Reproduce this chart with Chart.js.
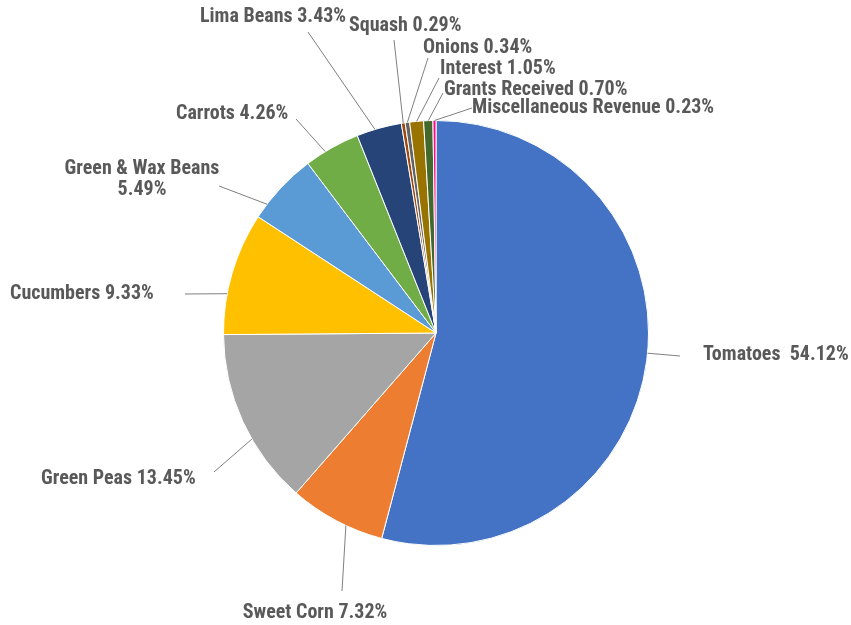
<!DOCTYPE html>
<html>
<head>
<meta charset="utf-8">
<script src="https://cdn.jsdelivr.net/npm/chart.js@4"></script>
<style>
  html, body { margin: 0; padding: 0; background: #ffffff; }
  #wrap { width: 851px; height: 625px; position: relative; }
</style>
</head>
<body>
<div id="wrap"><canvas id="c" width="851" height="625"></canvas></div>
<script>
// ---- data ----
const categories = ["Tomatoes", "Sweet Corn", "Green Peas", "Cucumbers", "Green & Wax Beans", "Carrots",
  "Lima Beans", "Squash", "Onions", "Interest", "Grants Received", "Miscellaneous Revenue"];
const shares = [54.12, 7.32, 13.45, 9.33, 5.49, 4.26, 3.43, 0.29, 0.34, 1.05, 0.70, 0.23];
const sliceColors = ["#4472C4", "#ED7D31", "#A5A5A5", "#FFC000", "#5B9BD5", "#70AD47",
  "#264478", "#9E480E", "#636363", "#997300", "#43682B", "#FF0A8C"];

// ---- label layout (text anchor, leader end, leader position within slice) ----
const labelLayout = [
  { tx: 703, ty: 355, align: "left",   ex: 680, ey: 356, f: 0.49, sep: "  " },
  { tx: 315, ty: 613, align: "center", ex: 342, ey: 591, f: 0.39 },
  { tx: 41,  ty: 479, align: "left",   ex: 214, ey: 472, f: 0.39 },
  { tx: 10,  ty: 294, align: "left",   ex: 185, ey: 294, f: 0.33 },
  { tx: 142, ty: 169, align: "center", ex: 219, ey: 186, f: 0.21, wrap: true },
  { tx: 176, ty: 114, align: "left",   ex: 296, ey: 119, f: 0.37 },
  { tx: 200, ty: 17,  align: "left",   ex: 308, ey: 32,  f: 0.41 },
  { tx: 349, ty: 26,  align: "left",   ex: 394, ey: 40,  f: 0.5 },
  { tx: 423, ty: 48,  align: "left",   ex: 428, ey: 58,  f: 0.5 },
  { tx: 440, ty: 69,  align: "left",   ex: 439, ey: 78,  f: 0.5 },
  { tx: 444, ty: 90,  align: "left",   ex: 443, ey: 93,  f: 0.5 },
  { tx: 472, ty: 108, align: "left",   ex: 472, ey: 108, f: 0.5 }
];

const FONT = "bold 20px 'Liberation Sans Narrow', 'Roboto Condensed', 'DejaVu Sans Condensed', sans-serif";
const TEXT_COLOR = "#595959";

const labelPlugin = {
  id: "pieLabels",
  afterDatasetsDraw(chart) {
    const ctx = chart.ctx;
    const meta = chart.getDatasetMeta(0);
    ctx.save();
    meta.data.forEach((arc, i) => {
      const L = labelLayout[i];
      const p = arc.getProps(["x", "y", "startAngle", "endAngle", "outerRadius"], true);
      const a = p.startAngle + L.f * (p.endAngle - p.startAngle);
      const sx = p.x + p.outerRadius * Math.cos(a);
      const sy = p.y + p.outerRadius * Math.sin(a);
      ctx.beginPath();
      ctx.strokeStyle = "#7F7F7F";
      ctx.lineWidth = 1;
      ctx.moveTo(sx, sy);
      ctx.lineTo(L.ex, L.ey);
      ctx.stroke();

      const pct = shares[i].toFixed(2) + "%";
      ctx.fillStyle = TEXT_COLOR;
      ctx.font = FONT;
      ctx.textBaseline = "middle";
      ctx.textAlign = L.align;
      if (L.wrap) {
        ctx.fillText(categories[i], L.tx, L.ty);
        ctx.fillText(pct, L.tx, L.ty + 21);
      } else {
        ctx.fillText(categories[i] + (L.sep || " ") + pct, L.tx, L.ty);
      }
    });
    ctx.restore();
  }
};

new Chart(document.getElementById("c"), {
  type: "pie",
  data: {
    labels: categories,
    datasets: [{
      data: shares,
      backgroundColor: sliceColors,
      borderColor: "#FFFFFF",
      borderWidth: 1
    }]
  },
  options: {
    responsive: false,
    animation: false,
    layout: { padding: { left: 21, right: 0, top: 120, bottom: 79 } },
    plugins: {
      legend: { display: false },
      tooltip: { enabled: false },
      title: { display: false }
    }
  },
  plugins: [labelPlugin]
});
</script>
</body>
</html>
